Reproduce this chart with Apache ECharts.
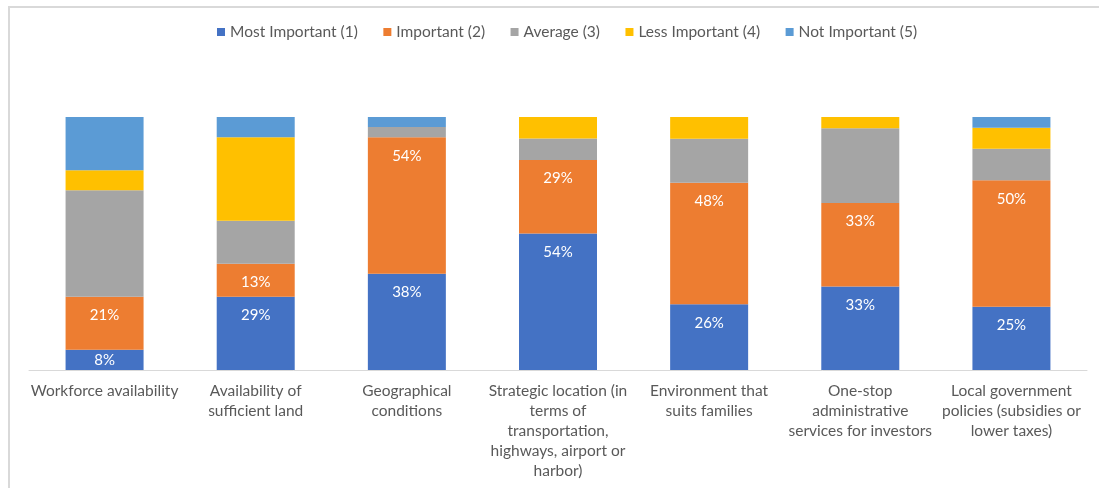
<!DOCTYPE html>
<html>
<head>
<meta charset="utf-8">
<script src="https://cdn.jsdelivr.net/npm/echarts@6/dist/echarts.min.js"></script>
<style>
  html, body { margin: 0; padding: 0; background: #ffffff; }
  #chart { width: 1099px; height: 488px; }
</style>
</head>
<body>
<div id="chart"></div>
<script>
// Location factors, share of responses per importance rating (%)
const categories = [
  'Workforce availability',
  'Availability of\nsufficient land',
  'Geographical\nconditions',
  'Strategic location (in\nterms of\ntransportation,\nhighways, airport or\nharbor)',
  'Environment that\nsuits families',
  'One-stop\nadministrative\nservices for investors',
  'Local government\npolicies (subsidies or\nlower taxes)'
];

const seriesNames = [
  'Most Important (1)',
  'Important (2)',
  'Average (3)',
  'Less Important (4)',
  'Not Important (5)'
];

const mostImportant = [8, 29, 38, 54, 26, 33, 25];
const important     = [21, 13, 54, 29, 48, 33, 50];
const average       = [42, 17, 4, 8.5, 17.4, 29.6, 12.5];
const lessImportant = [8, 33, 0, 8.5, 8.6, 4.4, 8.3];
const notImportant  = [21, 8, 4, 0, 0, 0, 4.2];

// Only the first two ratings carry value labels
const labelled = [true, true, false, false, false];

const colors = ['#4472C4', '#ED7D31', '#A5A5A5', '#FFC000', '#5B9BD5'];
const values = [mostImportant, important, average, lessImportant, notImportant];

const FONT = 'Lato, "Open Sans", sans-serif';

const series = values.map((vals, i) => ({
  name: seriesNames[i],
  type: 'bar',
  stack: 'total',
  barWidth: 78,
  itemStyle: { color: colors[i] },
  data: vals.map(v => {
    const item = { value: v };
    // short segments keep their label centred so it stays inside the bar
    if (labelled[i] && v < 12) {
      item.label = { position: 'inside', distance: 0 };
    }
    return item;
  }),
  label: {
    show: labelled[i],
    position: 'insideTop',
    distance: 11,
    color: '#ffffff',
    fontSize: 15,
    fontFamily: FONT,
    formatter: p => Math.round(p.value) + '%'
  }
}));

const chart = echarts.init(document.getElementById('chart'), null, { renderer: 'canvas' });
chart.setOption({
  animation: false,
  color: colors,
  graphic: [{
    type: 'rect',
    silent: true,
    shape: { x: 9, y: 7, width: 1200, height: 600 },
    style: { fill: 'none', stroke: '#d9d9d9', lineWidth: 2 }
  }],
  legend: {
    top: 19,
    left: 212,
    icon: 'rect',
    itemWidth: 8,
    itemHeight: 8,
    itemGap: 25.5,
    textStyle: { color: '#595959', fontSize: 15.5, fontFamily: FONT },
    data: seriesNames
  },
  grid: { left: 29, right: 12, top: 117, height: 253, containLabel: false },
  xAxis: {
    type: 'category',
    data: categories,
    axisLine: { lineStyle: { color: '#d9d9d9', width: 1 } },
    axisTick: { show: false },
    axisLabel: {
      interval: 0,
      margin: 11,
      color: '#595959',
      fontSize: 15.5,
      lineHeight: 20,
      fontFamily: FONT,
      align: 'center'
    }
  },
  yAxis: {
    type: 'value',
    min: 0,
    max: 100,
    show: false,
    splitLine: { show: false }
  },
  series: series
});
</script>
</body>
</html>
